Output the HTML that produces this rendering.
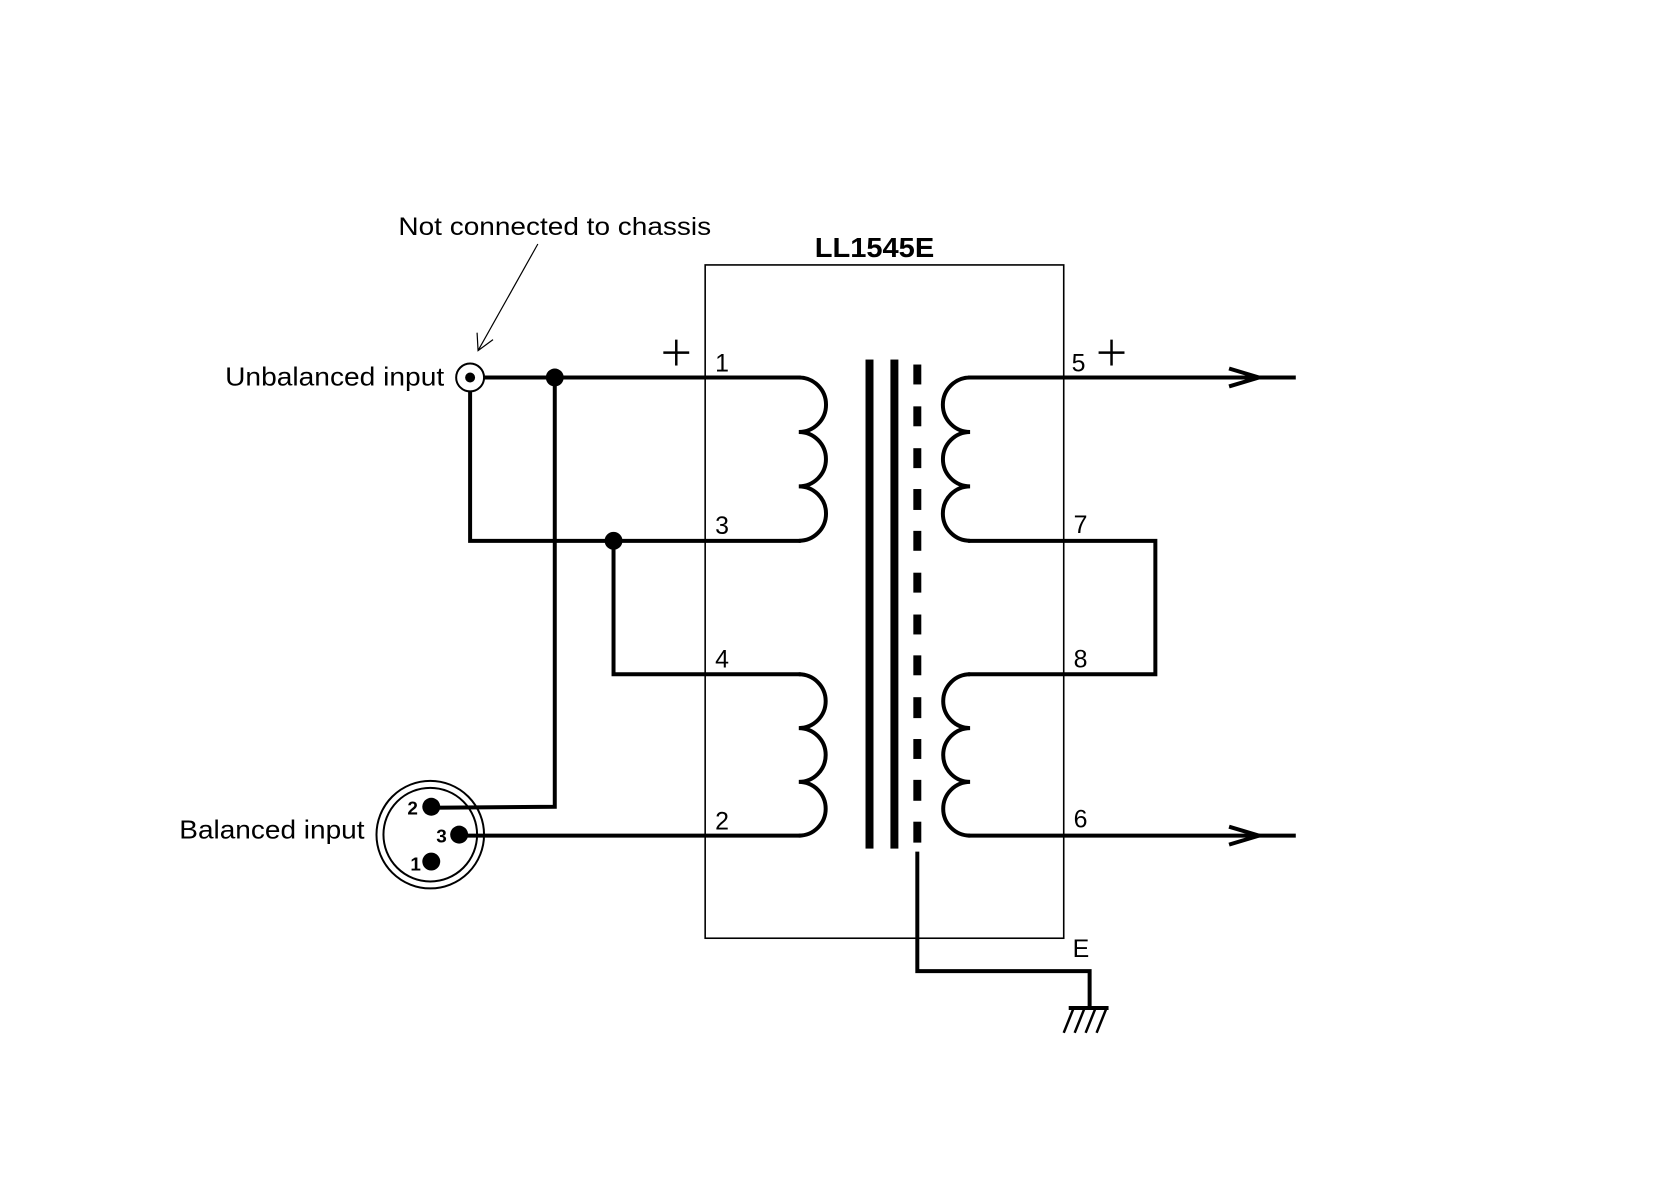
<!DOCTYPE html>
<html><head><meta charset="utf-8"><style>
html,body{margin:0;padding:0;background:#fff;}
svg{display:block;}
text{font-family:"Liberation Sans",sans-serif;fill:#000;}
</style></head><body>
<svg width="1668" height="1182" viewBox="0 0 1668 1182" xmlns="http://www.w3.org/2000/svg">
<rect x="0" y="0" width="1668" height="1182" fill="#fff"/>
<g transform="translate(-1,-1) scale(0.996)">
<rect x="709" y="267" width="360" height="676" fill="none" stroke="#000" stroke-width="1.6"/>
<text x="819" y="259" font-size="28" font-weight="bold" textLength="120" lengthAdjust="spacingAndGlyphs">LL1545E</text>
<text x="401" y="237" font-size="25" textLength="314" lengthAdjust="spacingAndGlyphs">Not connected to chassis</text>
<line x1="541" y1="246" x2="481" y2="353" stroke="#000" stroke-width="1.2"/>
<polyline points="480,335 481,353 496,342" fill="none" stroke="#000" stroke-width="1.2"/>
<text x="227" y="388" font-size="26" textLength="220" lengthAdjust="spacingAndGlyphs">Unbalanced input</text>
<text x="181" y="843" font-size="26" textLength="186" lengthAdjust="spacingAndGlyphs">Balanced input</text>
<g fill="none" stroke="#000" stroke-width="4">
<line x1="473" y1="380" x2="805" y2="380"/>
<polyline points="473,380 473,544 805,544"/>
<polyline points="617,544 617,678 805,678"/>
<polyline points="558,380 558,811 433,812"/>
<line x1="460" y1="840" x2="805" y2="840"/>
<path d="M803,380 A27.3,27.3 0 0 1 803,434.7 A27.3,27.3 0 0 1 803,489.3 A27.3,27.3 0 0 1 803,544"/>
<path d="M803,678 A27,27 0 0 1 803,732 A27,27 0 0 1 803,786 A27,27 0 0 1 803,840"/>
<path d="M975,380 A27.3,27.3 0 0 0 975,434.7 A27.3,27.3 0 0 0 975,489.3 A27.3,27.3 0 0 0 975,544"/>
<path d="M975,678 A27,27 0 0 0 975,732 A27,27 0 0 0 975,786 A27,27 0 0 0 975,840"/>
<line x1="973" y1="380" x2="1302" y2="380"/>
<polyline points="1235,371 1265,380 1235,389"/>
<line x1="973" y1="840" x2="1302" y2="840"/>
<polyline points="1235,831 1265,840 1235,849"/>
<polyline points="973,544 1161,544 1161,678 973,678"/>
<polyline points="922,856 922,976 1095,976 1095,1012"/>
<line x1="1074" y1="1013" x2="1114" y2="1013"/>
</g>
<g stroke="#000" stroke-width="2.5">
<line x1="1079" y1="1013" x2="1069" y2="1038"/>
<line x1="1090" y1="1013" x2="1080" y2="1038"/>
<line x1="1101" y1="1013" x2="1091" y2="1038"/>
<line x1="1112" y1="1013" x2="1102" y2="1038"/>
</g>
<rect x="870" y="362" width="8" height="491" fill="#000"/>
<rect x="895" y="362" width="8" height="491" fill="#000"/>
<g fill="#000">
<rect x="918" y="367" width="8" height="20"/><rect x="918" y="409" width="8" height="20"/>
<rect x="918" y="451" width="8" height="20"/><rect x="918" y="492" width="8" height="21"/>
<rect x="918" y="534" width="8" height="20"/><rect x="918" y="576" width="8" height="20"/>
<rect x="918" y="618" width="8" height="20"/><rect x="918" y="659" width="8" height="20"/>
<rect x="918" y="701" width="8" height="21"/><rect x="918" y="743" width="8" height="20"/>
<rect x="918" y="784" width="8" height="21"/><rect x="918" y="826" width="8" height="21"/>
</g>
<circle cx="473" cy="380" r="14" fill="#fff" stroke="#000" stroke-width="2"/>
<circle cx="473" cy="380" r="5" fill="#000"/>
<circle cx="558" cy="380" r="9" fill="#000"/>
<circle cx="617" cy="544" r="9" fill="#000"/>
<circle cx="433" cy="839" r="54" fill="none" stroke="#000" stroke-width="2"/>
<circle cx="433" cy="839" r="47" fill="none" stroke="#000" stroke-width="2"/>
<circle cx="434" cy="811" r="9" fill="#000"/>
<circle cx="462" cy="839" r="9" fill="#000"/>
<circle cx="434" cy="866" r="9" fill="#000"/>
<text x="410" y="819" font-size="19" font-weight="bold">2</text>
<text x="439" y="847" font-size="19" font-weight="bold">3</text>
<text x="413" y="875" font-size="19" font-weight="bold">1</text>
<g font-size="25">
<text x="719" y="374">1</text>
<text x="719" y="537">3</text>
<text x="719" y="671">4</text>
<text x="719" y="834">2</text>
<text x="1077" y="374">5</text>
<text x="1079" y="536">7</text>
<text x="1079" y="671">8</text>
<text x="1079" y="832">6</text>
<text x="1078" y="962">E</text>
</g>
<g stroke="#000" stroke-width="2.5">
<line x1="667" y1="355" x2="693" y2="355"/><line x1="680" y1="342" x2="680" y2="368"/>
<line x1="1104" y1="355" x2="1130" y2="355"/><line x1="1117" y1="342" x2="1117" y2="368"/>
</g>
</g>
</svg>
</body></html>
